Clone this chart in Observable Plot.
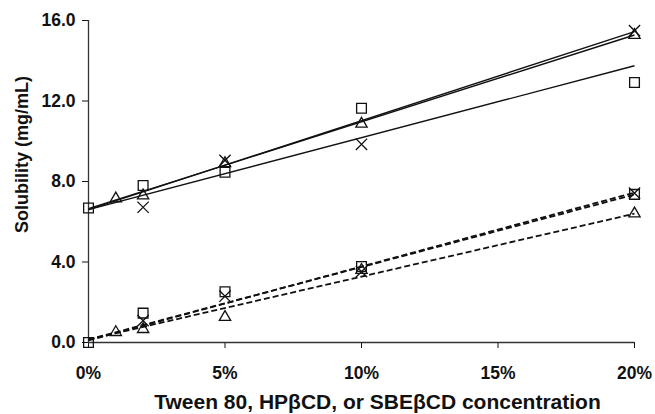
<!DOCTYPE html>
<html>
<head>
<meta charset="utf-8">
<script src="https://cdn.jsdelivr.net/npm/d3@7"></script>
<script src="https://cdn.jsdelivr.net/npm/@observablehq/plot@0.6"></script>
<style>
  html, body { margin: 0; padding: 0; background: #fff; }
  #chart svg { display: block; }
</style>
</head>
<body>
<div id="chart"></div>
<script>
// ---- data (concentration in %, solubility in mg/mL) ----
// upper group (solid regression lines)
const upperSquareConc   = [0, 2, 5, 10, 20];
const upperSquareSol    = [6.68, 7.8, 8.46, 11.64, 12.92];
const upperTriangleConc = [1, 2, 5, 10, 20];
const upperTriangleSol  = [7.15, 7.3, 8.9, 10.86, 15.27];
const upperTimesConc    = [2, 5, 10, 20];
const upperTimesSol     = [6.72, 9.05, 9.85, 15.5];
// lower group (dashed regression lines)
const lowerSquareConc   = [0, 2, 5, 10, 20];
const lowerSquareSol    = [0, 1.46, 2.52, 3.78, 7.36];
const lowerTriangleConc = [1, 2, 5, 10, 20];
const lowerTriangleSol  = [0.51, 0.66, 1.26, 3.6, 6.4];
const lowerTimesConc    = [2, 5, 10, 20];
const lowerTimesSol     = [1.09, 2.3, 3.52, 7.42];

// fitted lines (value at each end of the concentration range)
const fitSeries = ["upperSquare", "upperTriangle", "upperTimes", "lowerSquare", "lowerTriangle", "lowerTimes"];
const fitGroup  = ["solid", "solid", "solid", "dashed", "dashed", "dashed"];
const fitRange  = [0, 20];
const fitStart  = [6.6, 6.65, 6.6, 0.15, 0.15, 0.1];
const fitEnd    = [13.75, 15.28, 15.45, 7.35, 6.4, 7.45];

// axes
const xTicks = [0, 5, 10, 15, 20];
const yTicks = [0, 4, 8, 12, 16];
const xTitle = "Tween 80, HPβCD, or SBEβCD concentration";
const yTitle = "Solubility (mg/mL)";

// ---- build tables ----
const toPoints = (conc, sol, symbol) => conc.map((c, i) => ({conc: c, sol: sol[i], symbol}));
const squares = [
  ...toPoints(upperSquareConc, upperSquareSol, "square"),
  ...toPoints(lowerSquareConc, lowerSquareSol, "square")
];
const triangles = [
  ...toPoints(upperTriangleConc, upperTriangleSol, "triangle"),
  ...toPoints(lowerTriangleConc, lowerTriangleSol, "triangle")
];
const times = [
  ...toPoints(upperTimesConc, upperTimesSol, "times"),
  ...toPoints(lowerTimesConc, lowerTimesSol, "times")
];
const fits = fitSeries.map((s, i) => ({
  series: s, group: fitGroup[i],
  x1: fitRange[0], x2: fitRange[1], y1: fitStart[i], y2: fitEnd[i]
}));

const font = "'Liberation Sans', Arial, Helvetica, sans-serif";
const ink = "#111";

const chart = Plot.plot({
  width: 655,
  height: 414,
  marginLeft: 88,
  marginRight: 21,
  marginTop: 20,
  marginBottom: 72,
  style: {fontFamily: font, fontSize: "17.5px", fontWeight: "bold", color: ink, background: "white"},
  x: {domain: [0, 20], ticks: xTicks, tickFormat: d => d + "%", tickSize: 6, tickPadding: 18, label: null},
  y: {domain: [0, 16], ticks: yTicks, tickFormat: d3.format(".1f"), tickSize: 6, tickPadding: 7, label: null},
  marks: [
    Plot.ruleY([0], {stroke: "#333", strokeWidth: 1.3}),
    Plot.ruleX([0], {stroke: "#333", strokeWidth: 1.3}),
    Plot.link(fits.filter(d => d.group === "solid"), {
      x1: "x1", x2: "x2", y1: "y1", y2: "y2", stroke: ink, strokeWidth: 1.4
    }),
    Plot.link(fits.filter(d => d.group === "dashed"), {
      x1: "x1", x2: "x2", y1: "y1", y2: "y2", stroke: ink, strokeWidth: 1.8, strokeDasharray: "6,3"
    }),
    Plot.dot(squares, {x: "conc", y: "sol", symbol: "square", r: 5.5, fill: "none", stroke: ink, strokeWidth: 1.3}),
    Plot.dot(triangles, {x: "conc", y: "sol", symbol: "triangle", r: 4.2, fill: "none", stroke: ink, strokeWidth: 1.3}),
    Plot.dot(times, {x: "conc", y: "sol", symbol: "times", r: 5.2, fill: "none", stroke: ink, strokeWidth: 1.3}),
    Plot.text([xTitle], {
      frameAnchor: "bottom", dx: 16, dy: 60, lineAnchor: "middle", textAnchor: "middle",
      fontSize: 21, fontWeight: "bold", fill: ink
    }),
    Plot.text([yTitle], {
      frameAnchor: "left", dx: -66, dy: -27, rotate: -90, lineAnchor: "middle", textAnchor: "middle",
      fontSize: 18, fontWeight: "bold", fill: ink
    })
  ]
});
document.getElementById("chart").appendChild(chart);
</script>
</body>
</html>
